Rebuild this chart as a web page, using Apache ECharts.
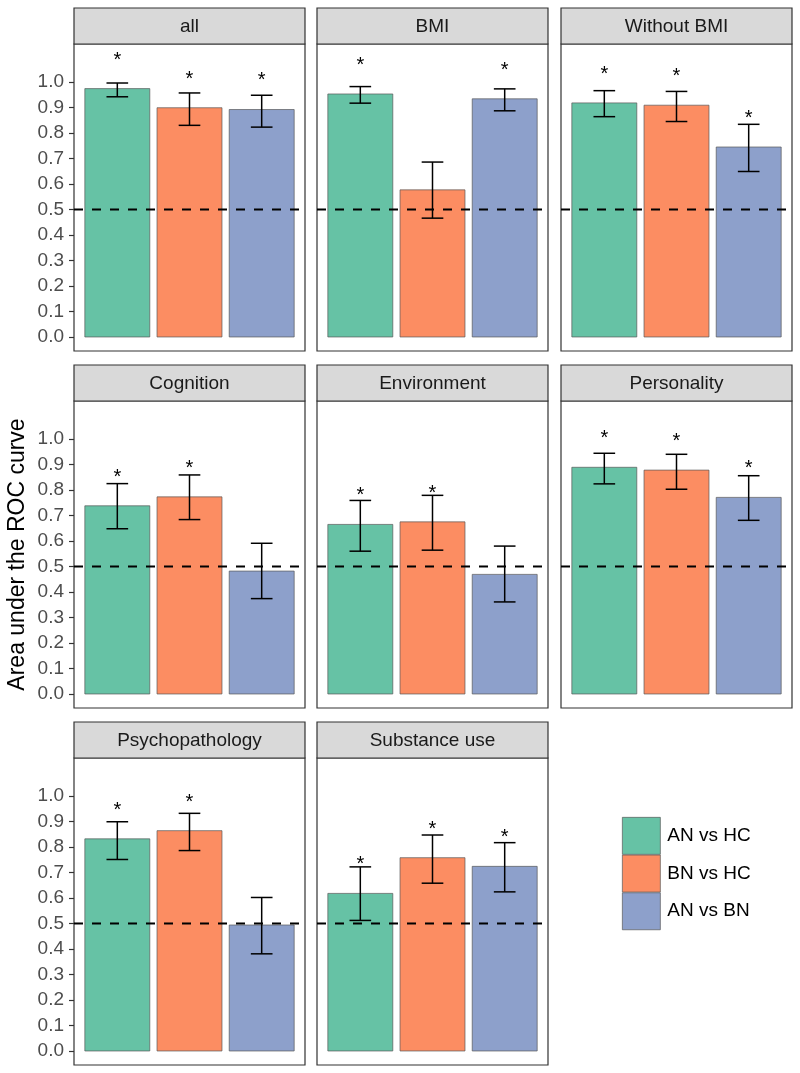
<!DOCTYPE html>
<html><head><meta charset="utf-8">
<script src="https://cdn.jsdelivr.net/npm/echarts@6/dist/echarts.min.js"></script>
<style>html,body{margin:0;padding:0;background:#fff}#c{width:800px;height:1073px}</style>
</head><body><div id="c"></div>
<script>
// ---- data ----
const panels = ['all','BMI','Without BMI','Cognition','Environment','Personality','Psychopathology','Substance use'];
const groups = ['AN vs HC','BN vs HC','AN vs BN'];
const aucANHC = [0.974, 0.953, 0.918, 0.738, 0.665, 0.889, 0.832, 0.618];
const loANHC  = [0.942, 0.917, 0.864, 0.648, 0.560, 0.824, 0.751, 0.512];
const hiANHC  = [0.996, 0.982, 0.966, 0.825, 0.759, 0.944, 0.899, 0.722];
const sigANHC = [1, 1, 1, 1, 1, 1, 1, 1];
const aucBNHC = [0.899, 0.577, 0.909, 0.773, 0.675, 0.878, 0.864, 0.758];
const loBNHC  = [0.830, 0.466, 0.845, 0.684, 0.564, 0.803, 0.786, 0.658];
const hiBNHC  = [0.957, 0.686, 0.963, 0.859, 0.779, 0.940, 0.932, 0.847];
const sigBNHC = [1, 0, 1, 1, 1, 1, 1, 1];
const aucANBN = [0.892, 0.934, 0.745, 0.482, 0.469, 0.771, 0.494, 0.724];
const loANBN  = [0.823, 0.887, 0.649, 0.374, 0.361, 0.681, 0.381, 0.624];
const hiANBN  = [0.948, 0.973, 0.834, 0.591, 0.580, 0.856, 0.602, 0.817];
const sigANBN = [1, 1, 1, 0, 0, 1, 0, 1];
const yTicks = [0, 0.1, 0.2, 0.3, 0.4, 0.5, 0.6, 0.7, 0.8, 0.9, 1.0];
const yTickLabels = ['0.0','0.1','0.2','0.3','0.4','0.5','0.6','0.7','0.8','0.9','1.0'];
const chanceLevel = 0.5;
const starOffset = 0.12;
const yTitle = 'Area under the ROC curve';

// ---- styling / layout ----
const FONT = '"Liberation Sans", Arial, sans-serif';
const colors = ['#66C2A5', '#FC8D62', '#8DA0CB'];
const colLeft = [74, 317, 561];
const stripTop = [8, 365, 722];
const PW = 231, SH = 36, PH = 307;
const yMin = -0.055, yMax = 1.149;

const auc = [aucANHC, aucBNHC, aucANBN];
const lo = [loANHC, loBNHC, loANBN];
const hi = [hiANHC, hiBNHC, hiANBN];
const sig = [sigANHC, sigBNHC, sigANBN];

const grids = [], xAxes = [], yAxes = [], series = [], graphics = [];
panels.forEach((name, i) => {
  const r = Math.floor(i / 3), c = i % 3;
  const left = colLeft[c], top = stripTop[r] + SH;
  grids.push({left: left, top: top, width: PW, height: PH, show: true,
    borderColor: '#333', borderWidth: 1.2, backgroundColor: '#fff', containLabel: false});
  xAxes.push({gridIndex: i, type: 'value', min: 0.4, max: 3.6, show: false});
  const y = {gridIndex: i, type: 'value', min: yMin, max: yMax,
    splitLine: {show: false}, axisLine: {show: false},
    axisTick: {show: c === 0, length: 5, customValues: yTicks, lineStyle: {color: '#333', width: 1.2}},
    axisLabel: {show: c === 0, customValues: yTicks, fontSize: 19, fontFamily: FONT, color: '#4D4D4D', margin: 10,
      formatter: v => { let k = 0, d = 1e9; yTicks.forEach((t, j) => { if (Math.abs(t - v) < d) { d = Math.abs(t - v); k = j; } }); return yTickLabels[k]; }}
  };
  if (i === 3) {
    Object.assign(y, {name: yTitle, nameLocation: 'middle', nameRotate: 90, nameGap: 45,
      nameTextStyle: {fontSize: 23, fontFamily: FONT, color: '#000'}});
  }
  yAxes.push(y);

  // strip
  graphics.push({type: 'rect', x: left, y: stripTop[r], shape: {x: 0, y: 0, width: PW, height: SH},
    style: {fill: '#D9D9D9', stroke: '#333', lineWidth: 1.2}, z: 10});
  graphics.push({type: 'text', x: left + PW / 2, y: stripTop[r] + SH / 2 + 1, z: 11,
    style: {text: name, font: '19px ' + FONT, fill: '#1A1A1A', align: 'center', verticalAlign: 'middle',
      textAlign: 'center', textVerticalAlign: 'middle'}});

  // bars
  groups.forEach((g, k) => {
    series.push({type: 'custom', name: g, xAxisIndex: i, yAxisIndex: i, z: 2,
      itemStyle: {color: colors[k]},
      data: [[k + 1, auc[k][i]]],
      renderItem: (params, api) => {
        const x = api.value(0), v = api.value(1);
        const p0 = api.coord([x - 0.45, v]);
        const p1 = api.coord([x + 0.45, 0]);
        return {type: 'rect', shape: {x: p0[0], y: p0[1], width: p1[0] - p0[0], height: p1[1] - p0[1]},
          style: {fill: colors[k], stroke: '#595959', lineWidth: 0.7}};
      }});
  });

  // chance line
  series.push({type: 'line', xAxisIndex: i, yAxisIndex: i, z: 3, symbol: 'none', silent: true,
    data: [[0.4, chanceLevel], [3.6, chanceLevel]],
    lineStyle: {color: '#000', width: 2, type: [9, 9]}});

  // error bars + stars
  series.push({type: 'custom', xAxisIndex: i, yAxisIndex: i, z: 4, silent: true,
    data: groups.map((g, k) => [k + 1, lo[k][i], hi[k][i], sig[k][i], auc[k][i]]),
    renderItem: (params, api) => {
      const x = api.value(0), l = api.value(1), h = api.value(2), s = api.value(3), a = api.value(4);
      const pl = api.coord([x, l]), ph = api.coord([x, h]);
      const cw = api.size([0.3, 0])[0] / 2;
      const st = {stroke: '#000', lineWidth: 1.5};
      const ch = [
        {type: 'line', shape: {x1: pl[0], y1: pl[1], x2: ph[0], y2: ph[1]}, style: st},
        {type: 'line', shape: {x1: pl[0] - cw, y1: pl[1], x2: pl[0] + cw, y2: pl[1]}, style: st},
        {type: 'line', shape: {x1: ph[0] - cw, y1: ph[1], x2: ph[0] + cw, y2: ph[1]}, style: st}
      ];
      if (s) {
        const ps = api.coord([x, a + starOffset]);
        ch.push({type: 'text', x: ps[0], y: ps[1] + 2,
          style: {text: '*', font: '20px ' + FONT, fill: '#000', align: 'center', verticalAlign: 'middle',
            textAlign: 'center', textVerticalAlign: 'middle'}});
      }
      return {type: 'group', children: ch};
    }});
});

const chart = echarts.init(document.getElementById('c'), null, {renderer: 'canvas'});
chart.setOption({
  animation: false,
  backgroundColor: '#fff',
  grid: grids, xAxis: xAxes, yAxis: yAxes, series: series,
  graphic: {elements: graphics},
  legend: {data: groups, orient: 'vertical', left: 617, top: 812, itemWidth: 38, itemHeight: 37, itemGap: 0,
    icon: 'rect', selectedMode: false,
    itemStyle: {borderColor: '#595959', borderWidth: 0.7},
    textStyle: {fontSize: 19, fontFamily: FONT, color: '#000', padding: [0, 0, 0, 2]}}
});
</script></body></html>
